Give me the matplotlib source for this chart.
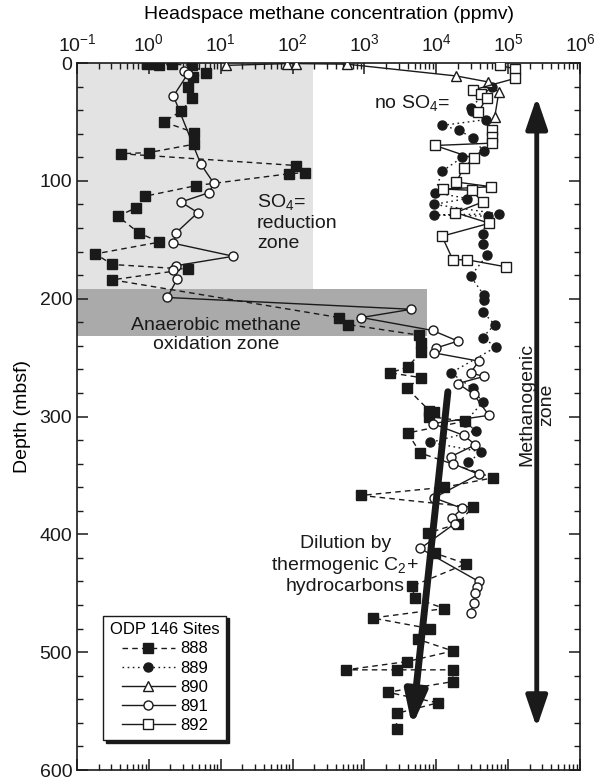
import matplotlib
matplotlib.use("Agg")
import matplotlib.pyplot as plt
from matplotlib.lines import Line2D
from matplotlib.ticker import LogLocator, MultipleLocator, NullFormatter

plt.rcParams['font.family'] = ['Liberation Sans', 'DejaVu Sans']
plt.rcParams['mathtext.fontset'] = 'custom'
plt.rcParams['mathtext.rm'] = 'Liberation Sans'
plt.rcParams['mathtext.it'] = 'Liberation Sans:italic'
plt.rcParams['mathtext.default'] = 'regular'

# headspace methane (ppmv) against depth (mbsf) for each ODP Leg 146 site
depth_888 = [0.5, 1, 2, 1, 2, 8.5, 12, 20, 30, 41, 50, 59, 69, 76, 77, 87, 93, 94,
             104, 113, 123, 130, 144, 152, 162, 171, 175, 184, 216, 222, 231, 238,
             245, 258, 263, 267, 276, 295, 296, 300, 304, 314, 331, 352, 360, 367,
             377, 391, 399, 416, 425, 444, 454, 463, 471, 480, 489, 499, 508, 515,
             515, 515, 525, 534, 543, 552, 565]
ch4_888 = [0.94, 1.2, 1.4, 2.1, 4.0, 6.2, 4.1, 3.5, 4.0, 2.8, 1.6, 4.3, 4.2, 1.0,
           0.41, 112, 150, 89, 4.6, 0.89, 0.66, 0.37, 0.72, 1.4, 0.18, 0.31, 3.5,
           0.31, 440, 600, 5800, 6100, 6200, 4000, 2300, 6100, 3900, 8000, 9300,
           8000, 25000, 4000, 6000, 62000, 13000, 900, 32000, 20000, 7600, 9600,
           26000, 4600, 5000, 13000, 1300, 8100, 5500, 17000, 3900, 550, 2800,
           17000, 17000, 2100, 10500, 2800, 2800]

depth_889 = [20, 38, 41, 48, 53, 57, 64, 75, 80, 92, 110, 115, 120, 128, 129, 130,
             145, 154, 163, 181, 197, 201, 211, 222, 233, 241, 263, 276, 288, 305,
             312, 322, 330, 339]
ch4_889 = [59000, 30000, 31000, 49000, 12000, 21000, 32000, 46000, 23000, 12000,
           9600, 27000, 9300, 74000, 9300, 53000, 44000, 44000, 51000, 30000,
           46000, 46000, 44000, 65000, 44000, 68000, 16000, 32000, 44000, 25000,
           36000, 8300, 42000, 28000]

depth_890 = [2, 0.5, 0.5, 1, 11, 16, 25, 46]
ch4_890 = [12, 85, 110, 570, 19000, 52000, 74000, 65000]

depth_891 = [7, 9, 28, 86, 102, 110, 118, 127, 144, 153, 164, 172, 176, 183, 199,
             209, 216, 227, 236, 242, 246, 253, 263, 266, 272, 281, 299, 306, 316,
             324, 334, 340, 349, 369, 378, 386, 391, 412, 440, 445, 450, 458, 467]
ch4_891 = [3.1, 3.5, 2.2, 5.3, 8.0, 6.9, 2.8, 4.8, 2.4, 2.2, 15, 2.4, 2.2, 2.5, 1.8,
           4500, 910, 8900, 20000, 9800, 9300, 39000, 30000, 46000, 20000, 33000,
           54000, 8900, 24000, 35000, 16000, 17000, 39000, 9300, 23000, 16500,
           18000, 6000, 39000, 37000, 35000, 33000, 30000]

depth_892 = [2, 5, 13, 23, 26, 30, 42, 57, 63, 68, 70, 81, 89, 101, 105, 107, 108,
             118, 127, 136, 147, 167, 167, 173]
ch4_892 = [76000, 126000, 126000, 32000, 42000, 50000, 38000, 59000, 60000, 60000,
           9600, 33000, 24000, 19000, 58000, 12500, 31000, 44000, 18500, 55000,
           12000, 17000, 27000, 93000]

site_labels = ['888', '889', '890', '891', '892']

ink = '#1a1a1a'

fig = plt.figure(figsize=(5.94, 7.82), dpi=100)
ax = fig.add_axes([77 / 594, 12 / 782, 503 / 594, 707 / 782])

# zone shading
ax.fill_between([0.1, 190], 0, 192, color='#e3e3e3', lw=0, zorder=0)
ax.fill_between([0.1, 7400], 192, 232, color='#aaaaaa', lw=0, zorder=0)

styles = [
    dict(ls=(0, (4, 3)), marker='s', ms=7.5, mfc=ink),
    dict(ls=(0, (1.2, 2.5)), marker='o', ms=6.5, mfc=ink),
    dict(ls='-', marker='^', ms=6.5, mfc='white'),
    dict(ls='-', marker='o', ms=6.5, mfc='white'),
    dict(ls='-', marker='s', ms=6.5, mfc='white'),
]
series = [(ch4_888, depth_888), (ch4_889, depth_889), (ch4_890, depth_890),
          (ch4_891, depth_891), (ch4_892, depth_892)]

handles = []
for (x, y), st, lab in zip(series, styles, site_labels):
    ax.plot(x, y, color=ink, lw=1.0, mec=ink, mew=1.0, zorder=3, **st)
    handles.append(Line2D([], [], color=ink, lw=1.0, mec=ink, mew=1.0, label=lab, **st))

# arrows
ax.annotate('', xy=(2.5e5, 564), xytext=(2.5e5, 29),
            arrowprops=dict(arrowstyle='<|-|>,head_length=19,head_width=6.5',
                            mutation_scale=1, lw=3.5, color=ink,
                            shrinkA=0, shrinkB=0), zorder=4)
ax.annotate('', xy=(4600, 563), xytext=(14500, 279),
            arrowprops=dict(arrowstyle='-|>,head_length=20,head_width=6.5',
                            mutation_scale=1, lw=5, color=ink,
                            shrinkA=0, shrinkB=0), zorder=4)

fs = 14
ax.text(32, 135, 'SO$_4$=\nreduction\nzone', fontsize=fs, ha='left', va='center', color=ink)
ax.text(1380, 34, 'no SO$_4$=', fontsize=fs, ha='left', va='center', color=ink)
ax.text(8.5, 231, 'Anaerobic methane\noxidation zone', fontsize=fs,
        ha='center', va='center', color=ink)
ax.text(540, 426, 'Dilution by\nthermogenic C$_2$+\nhydrocarbons', fontsize=fs,
        ha='center', va='center', multialignment='center', color=ink)
ax.text(2.5e5, 290, 'Methanogenic\nzone', fontsize=fs, rotation=90,
        ha='center', va='center', multialignment='center', color=ink)

ax.set_xscale('log')
ax.set_xlim(0.1, 1e6)
ax.set_ylim(600, 0)
ax.xaxis.tick_top()
ax.xaxis.set_label_position('top')
ax.set_xlabel('Headspace methane concentration (ppmv)', fontsize=fs, labelpad=10)
ax.set_ylabel('Depth (mbsf)', fontsize=fs, labelpad=6)
ax.xaxis.set_major_locator(LogLocator(base=10, numticks=10))
ax.xaxis.set_minor_locator(LogLocator(base=10, subs=range(2, 10), numticks=10))
ax.xaxis.set_minor_formatter(NullFormatter())
ax.yaxis.set_major_locator(MultipleLocator(100))
ax.yaxis.set_minor_locator(MultipleLocator(20))
ax.tick_params(which='both', direction='in', top=True, bottom=True, left=True,
               right=True, labelbottom=False, labeltop=True, colors=ink,
               labelsize=fs)
ax.tick_params(which='major', length=8, width=1.1)
ax.tick_params(which='minor', length=4, width=1.0)
ax.tick_params(axis='x', which='major', pad=6)
for sp in ax.spines.values():
    sp.set_linewidth(1.2)
    sp.set_color(ink)

leg = ax.legend(handles=handles, title='ODP 146 Sites', loc='lower left',
                bbox_to_anchor=(0.036, 0.031), fontsize=12, title_fontsize=12,
                handlelength=3.2, handletextpad=0.3, labelspacing=0.25,
                borderpad=0.4, numpoints=1, fancybox=False, framealpha=1,
                edgecolor=ink, shadow={'color': ink, 'alpha': 1.0})
leg.get_frame().set_linewidth(1.0)
leg.set_zorder(6)

fig.savefig('out.png', dpi=100)
